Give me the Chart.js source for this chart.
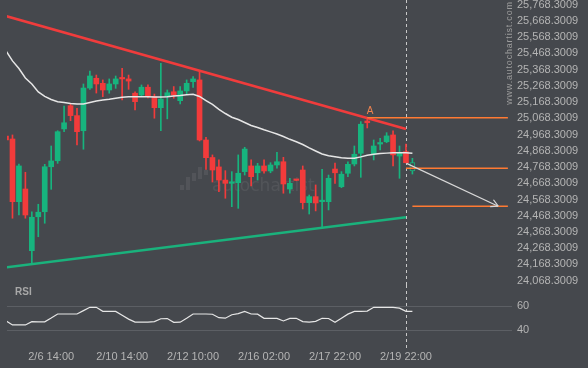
<!DOCTYPE html>
<html>
<head>
<meta charset="utf-8">
<script src="https://cdn.jsdelivr.net/npm/chart.js@4.4.1/dist/chart.umd.min.js"></script>
<style>
  body { margin: 0; background: #45484d; width: 588px; height: 368px; overflow: hidden; position: relative; }
  canvas { position: absolute; left: 0; }
  #main { top: 0; }
  #rsi { top: 285px; }
</style>
</head>
<body>
<canvas id="main" width="588" height="285"></canvas>
<canvas id="rsi" width="588" height="83"></canvas>
<script>
// 4h candles, index 0 is cut by the left edge
const opens = [24959, 24941, 24555, 24633, 24253, 24462, 24493, 24770, 24807, 25003,
  25146, 25085, 24992, 25255, 25315, 25284, 25243, 25280, 25319, 25311,
  25223, 25212, 25260, 25202, 25134, 25202, 25232, 25177, 25237, 25294,
  25305, 24935, 24827, 24769, 24688, 24668, 24672, 24740, 24775, 24733,
  24775, 24744, 24781, 24801, 24633, 24690, 24750, 24549, 24586, 24555,
  24555, 24756, 24647, 24730, 24787, 24853, 25052, 24847, 24910, 24924,
  24966, 24836, 24863, 24744];
const highs = [24972, 24966, 24787, 24736, 24493, 24539, 24785, 24898, 24992, 25144,
  25161, 25130, 25280, 25360, 25335, 25305, 25311, 25329, 25377, 25335,
  25232, 25274, 25274, 25218, 25407, 25243, 25264, 25264, 25305, 25325,
  25356, 24952, 24843, 24812, 24746, 24740, 24843, 24890, 24812, 24791,
  24812, 24795, 24859, 24828, 24699, 24692, 24775, 24596, 24658, 24754,
  24719, 24793, 24740, 24801, 24898, 25048, 25072, 24935, 24945, 24980,
  24992, 24898, 24910, 24822];
const lows = [24923, 24453, 24473, 24453, 24175, 24339, 24422, 24631, 24791, 24986,
  25054, 24904, 24878, 25247, 25224, 25202, 25223, 25253, 25181, 25247,
  25120, 25202, 25194, 25069, 24993, 25065, 25192, 25157, 25216, 25258,
  24929, 24754, 24676, 24616, 24576, 24524, 24514, 24719, 24652, 24688,
  24730, 24733, 24761, 24607, 24607, 24684, 24510, 24479, 24498, 24401,
  24504, 24668, 24641, 24709, 24775, 24705, 25009, 24812, 24873, 24918,
  24775, 24699, 24793, 24725];
const closes = [24935, 24555, 24775, 24473, 24459, 24490, 24770, 24806, 24986, 25041,
  25085, 24986, 25255, 25329, 25280, 25243, 25280, 25311, 25311, 25298,
  25171, 25260, 25202, 25134, 25187, 25226, 25212, 25237, 25284, 25311,
  24935, 24826, 24750, 24688, 24668, 24669, 24730, 24879, 24709, 24775,
  24744, 24781, 24801, 24664, 24668, 24686, 24549, 24586, 24547, 24556,
  24699, 24733, 24724, 24785, 24847, 25032, 25041, 24898, 24918, 24960,
  24843, 24857, 24795, 24795];
const movingAvg = [25483, 25422, 25375, 25317, 25280, 25231, 25203, 25184, 25171, 25166,
  25160, 25157, 25157, 25166, 25175, 25181, 25186, 25192, 25198, 25202,
  25202, 25202, 25202, 25200, 25200, 25201, 25206, 25209, 25213, 25217,
  25203, 25178, 25154, 25123, 25098, 25075, 25061, 25043, 25024, 25012,
  24998, 24985, 24972, 24956, 24939, 24924, 24907, 24886, 24867, 24849,
  24838, 24832, 24826, 24822, 24822, 24831, 24841, 24847, 24851, 24854,
  24856, 24857, 24857, 24853];
const rsi = [47.7, 44.4, 44.4, 44.4, 47.1, 46.9, 47.0, 50.1, 53.4, 53.4,
  53.4, 53.4, 56.2, 58.9, 58.9, 55.6, 55.6, 55.5, 52.3, 49.2,
  46.8, 46.8, 46.8, 47.2, 49.5, 49.7, 46.6, 46.7, 49.9, 53.4,
  53.4, 53.4, 53.2, 50.4, 50.0, 52.8, 53.7, 55.5, 53.4, 53.3,
  49.9, 49.9, 49.8, 47.7, 49.8, 49.9, 47.2, 46.7, 47.4, 49.9,
  49.7, 46.6, 50.0, 53.3, 55.6, 55.6, 55.8, 58.9, 58.9, 58.9,
  58.9, 58.2, 55.6, 55.6];

const priceTicks = [24068.3009, 24168.3009, 24268.3009, 24368.3009, 24468.3009, 24568.3009,
  24668.3009, 24768.3009, 24868.3009, 24968.3009, 25068.3009, 25168.3009,
  25268.3009, 25368.3009, 25468.3009, 25568.3009, 25668.3009, 25768.3009];
const rsiTicks = [40, 60];
const timeIdx = [7, 18, 29, 40, 51, 62];
const timeLabels = ["2/6 14:00", "2/10 14:00", "2/12 10:00", "2/16 02:00", "2/17 22:00", "2/19 22:00"];

// pattern (candle index, price)
const resistance = [[0, 25698], [62, 25003]];
const support = [[0, 24150], [62, 24459]];
const levelPrices = [25072, 24761, 24527];
const levelFrom = [56, 62, 63];
const levelTo = 77.8;
const forecast = [[62.1, 24791], [76.3, 24527]];
const nowIdx = 62;
const pointA = 56;

const BG = '#45484d';
const GREEN = '#17b47e';
const RED = '#f23b3b';
const ORANGE = '#ff7a33';
const TEXT = '#b4b4b4';
Chart.defaults.font.family = '"Liberation Sans", Arial, sans-serif';

const idx = opens.map((_, i) => i);
const last = opens.length - 1;
const col = idx.map(i => closes[i] >= opens[i] ? GREEN : RED);
const xr = { type: 'linear', min: 0.15, max: 78.44, offset: false };

function dashed(ctx, x, top, bottom) {
  ctx.save();
  ctx.strokeStyle = '#c8c8c8';
  ctx.lineWidth = 1;
  ctx.setLineDash([3, 3]);
  ctx.beginPath();
  ctx.moveTo(Math.round(x) + 0.5, top);
  ctx.lineTo(Math.round(x) + 0.5, bottom);
  ctx.stroke();
  ctx.restore();
}

const mainDecor = {
  id: 'mainDecor',
  beforeDatasetsDraw(chart) {
    const { ctx, chartArea: a, scales: { x } } = chart;
    ctx.save();
    // watermark
    ctx.fillStyle = 'rgba(255,255,255,0.07)';
    [[180, 185, 5], [186, 177, 13], [192, 173, 8], [198, 167, 12], [204, 170, 5]].forEach(r => ctx.fillRect(r[0], r[1], 4, r[2]));
    ctx.font = '17px "DejaVu Sans"';
    ctx.textBaseline = 'alphabetic';
    ctx.fillText('autochartist', 212, 191);
    ctx.restore();
    dashed(ctx, x.getPixelForValue(nowIdx), a.top, a.bottom);
  },
  afterDatasetsDraw(chart) {
    const { ctx, scales: { x, y } } = chart;
    ctx.save();
    // arrow head
    const x1 = x.getPixelForValue(forecast[0][0]), y1 = y.getPixelForValue(forecast[0][1]);
    const x2 = x.getPixelForValue(forecast[1][0]), y2 = y.getPixelForValue(forecast[1][1]);
    const ang = Math.atan2(y2 - y1, x2 - x1);
    ctx.strokeStyle = '#d8d8d8';
    ctx.lineWidth = 1.2;
    ctx.beginPath();
    [ang + Math.PI - 0.5, ang + Math.PI + 0.5].forEach(t => {
      ctx.moveTo(x2, y2);
      ctx.lineTo(x2 + 8 * Math.cos(t), y2 + 8 * Math.sin(t));
    });
    ctx.stroke();
    // A label
    ctx.fillStyle = '#f0834f';
    ctx.font = '10px "Liberation Sans", Arial';
    ctx.textAlign = 'left';
    ctx.textBaseline = 'bottom';
    ctx.fillText('A', x.getPixelForValue(pointA) - 0.5, y.getPixelForValue(levelPrices[0]) - 1);
    ctx.restore();
  },
  afterDraw(chart) {
    const { ctx } = chart;
    ctx.save();
    ctx.translate(511.5, 53);
    ctx.rotate(-Math.PI / 2);
    ctx.fillStyle = '#9c9c9c';
    ctx.font = '9px "Liberation Sans", Arial';
    ctx.letterSpacing = '0.8px';
    ctx.textAlign = 'center';
    ctx.fillText('www.autochartist.com', 0, 0);
    ctx.restore();
  }
};

const lineDs = (data, color, width, order) => ({
  type: 'line', data, borderColor: color, borderWidth: width,
  pointRadius: 0, tension: 0, fill: false, clip: 0, order
});

new Chart(document.getElementById('main'), {
  type: 'bar',
  data: {
    datasets: [
      lineDs(forecast.map(p => ({ x: p[0], y: p[1] })), '#d8d8d8', 1.2, 0),
      ...levelPrices.map((p, k) => lineDs([{ x: levelFrom[k], y: p }, { x: levelTo, y: p }], ORANGE, 1.5, 1)),
      lineDs(resistance.map(p => ({ x: p[0], y: p[1] })), '#f03c3c', 2.5, 2),
      lineDs(support.map(p => ({ x: p[0], y: p[1] })), '#1ab27c', 2.5, 2),
      lineDs(idx.map(i => ({ x: i, y: movingAvg[i] })), '#e6e6e6', 1.5, 3),
      {
        data: idx.map(i => ({ x: i, y: [opens[i], closes[i]] })),
        backgroundColor: idx.map(i => i === last ? BG : col[i]),
        borderColor: col,
        borderWidth: idx.map(i => i === last ? 1 : 0),
        borderSkipped: false,
        barThickness: 5,
        minBarLength: 1.5,
        grouped: false,
        order: 4
      },
      {
        data: idx.map(i => ({ x: i, y: [lows[i], highs[i]] })),
        backgroundColor: col,
        barThickness: 1,
        grouped: false,
        order: 5
      }
    ]
  },
  options: {
    responsive: false,
    animation: false,
    layout: { padding: { left: 7, right: 0, top: 0, bottom: 0 } },
    plugins: { legend: { display: false }, tooltip: { enabled: false } },
    scales: {
      x: { ...xr, display: false },
      y: {
        position: 'right',
        min: 24041.7,
        max: 25797.2,
        grid: { display: false, drawTicks: false },
        border: { display: false },
        afterBuildTicks: s => { s.ticks = priceTicks.map(v => ({ value: v })); },
        afterFit: s => { s.width = 76; s.paddingTop = 0; s.paddingBottom = 0; },
        ticks: {
          color: TEXT, padding: 5, font: { size: 11 }, autoSkip: false,
          callback: v => v.toLocaleString('en-US', { minimumFractionDigits: 4, maximumFractionDigits: 4 })
        }
      }
    }
  },
  plugins: [mainDecor]
});

const rsiDecor = {
  id: 'rsiDecor',
  beforeDatasetsDraw(chart) {
    const { ctx, chartArea: a, scales: { x } } = chart;
    dashed(ctx, x.getPixelForValue(nowIdx), a.top, a.bottom);
    ctx.save();
    ctx.fillStyle = '#a8a8a8';
    ctx.font = 'bold 10px "Liberation Sans", Arial';
    ctx.textBaseline = 'alphabetic';
    ctx.fillText('RSI', 15, 10);
    ctx.restore();
  }
};

new Chart(document.getElementById('rsi'), {
  type: 'line',
  data: {
    datasets: [lineDs(idx.map(i => ({ x: i, y: rsi[i] })), '#e6e6e6', 1.2, 0)]
  },
  options: {
    responsive: false,
    animation: false,
    layout: { padding: { left: 7, right: 0, top: 0, bottom: 0 } },
    plugins: { legend: { display: false }, tooltip: { enabled: false } },
    scales: {
      x: {
        ...xr,
        grid: { display: false, drawTicks: false },
        border: { display: false },
        afterBuildTicks: s => { s.ticks = timeIdx.map(v => ({ value: v })); },
        afterFit: s => { s.height = 18; s.paddingLeft = 0; s.paddingRight = 0; },
        ticks: { color: TEXT, padding: 0, autoSkip: false, maxRotation: 0, font: { size: 11 },
          callback: (v, k) => timeLabels[k] }
      },
      y: {
        position: 'right',
        min: 23.8,
        max: 77.28,
        grid: { color: '#5c5f64', drawTicks: false },
        border: { display: false },
        afterBuildTicks: s => { s.ticks = rsiTicks.map(v => ({ value: v })); },
        afterFit: s => { s.width = 76; s.paddingTop = 0; s.paddingBottom = 0; },
        ticks: { color: TEXT, padding: 5, autoSkip: false, font: { size: 11 } }
      }
    }
  },
  plugins: [rsiDecor]
});
</script>
</body>
</html>
